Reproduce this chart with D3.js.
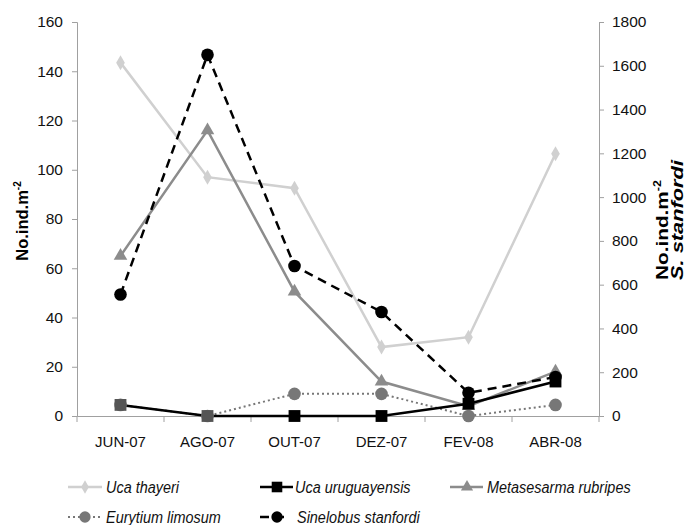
<!DOCTYPE html>
<html><head><meta charset="utf-8">
<script src="https://cdn.jsdelivr.net/npm/d3@7"></script>
<style>body{margin:0;background:#fff}svg{display:block}text{font-family:"Liberation Sans",Arial,sans-serif}</style>
</head><body><svg id="c" width="688" height="525"></svg>
<script>
const categories = ["JUN-07","AGO-07","OUT-07","DEZ-07","FEV-08","ABR-08"];
const ucaThayeri = [143.5, 97, 92.5, 28, 32, 106.5];
const ucaUruguayensis = [4.5, 0, 0, 0, 5, 14];
const metasesarma = [65, 116, 50.5, 14, 4, 18];
const eurytium = [4.5, 0, 9, 9, 0, 4.5];
const sinelobus = [555, 1650, 685, 475, 106, 178];
const leftTicks = [0,20,40,60,80,100,120,140,160];
const rightTicks = [0,200,400,600,800,1000,1200,1400,1600,1800];

const svg = d3.select("#c");
const L = 77, R = 599, T = 22, B = 416;
const x = d3.scaleBand().domain(categories).range([L, R]);
const yL = d3.scaleLinear().domain([0,160]).range([B,T]);
const yR = d3.scaleLinear().domain([0,1800]).range([B,T]);
const cx = d => x(d) + x.bandwidth()/2;

const axisColor = "#a0a0a0";
const gl = svg.append("g").attr("transform",`translate(${L},0)`)
  .call(d3.axisLeft(yL).tickValues(leftTicks).tickSize(5).tickPadding(9));
const gr = svg.append("g").attr("transform",`translate(${R},0)`)
  .call(d3.axisRight(yR).tickValues(rightTicks).tickFormat(d3.format("d")).tickSize(5).tickPadding(8));
const gx = svg.append("g").attr("transform",`translate(0,${B})`)
  .call(d3.axisBottom(x).tickSize(0).tickPadding(20));
[gl,gr,gx].forEach(g=>{
  g.select(".domain").attr("stroke",axisColor).attr("stroke-width",1);
  g.selectAll(".tick line").attr("stroke",axisColor);
  g.selectAll("text").attr("fill","#111").style("font-size","15.5px");
});
gx.selectAll("text").style("font-size","15px");
// x boundary ticks
svg.append("g").selectAll("line").data(d3.range(categories.length+1))
  .enter().append("line")
  .attr("x1",i=>L + x.step()*i).attr("x2",i=>L + x.step()*i)
  .attr("y1",B).attr("y2",B+6).attr("stroke",axisColor);

// axis titles
svg.append("text").attr("transform","translate(28,221) rotate(-90)")
  .attr("text-anchor","middle").style("font-size","16.5px").style("font-weight","bold")
  .html('No.ind.m<tspan dy="-7" font-size="10">-2</tspan>');
svg.append("text").attr("transform","translate(668,280) rotate(-90)")
  .attr("text-anchor","start").style("font-size","16.5px").style("font-weight","bold")
  .attr("textLength",100).attr("lengthAdjust","spacingAndGlyphs")
  .html('No.ind.m<tspan dy="-7" font-size="10">-2</tspan>');
svg.append("text").attr("transform","translate(683,280) rotate(-90)")
  .attr("text-anchor","start").style("font-size","16.5px").style("font-weight","bold").style("font-style","italic")
  .attr("textLength",120).attr("lengthAdjust","spacingAndGlyphs")
  .text('S. stanfordi');

const series = [
  {name:"Uca thayeri", vals:ucaThayeri, y:yL, color:"#d0d0d0", mcolor:"#d0d0d0", dash:null, w:2.5, marker:"diamond"},
  {name:"Metasesarma rubripes", vals:metasesarma, y:yL, color:"#8c8c8c", mcolor:"#8c8c8c", dash:null, w:2.5, marker:"triangle"},
  {name:"Sinelobus stanfordi", vals:sinelobus, y:yR, color:"#000", mcolor:"#000", dash:"9,6", w:2.5, marker:"circle"},
  {name:"Eurytium limosum", vals:eurytium, y:yL, color:"#777", mcolor:"#777", dash:"2,3", w:2, marker:"circle"},
  {name:"Uca uruguayensis", vals:ucaUruguayensis, y:yL, color:"#000", mcolor:"#000", dash:null, w:2.5, marker:"square"},
];
const sym = {diamond:d3.symbolDiamond, triangle:d3.symbolTriangle, circle:d3.symbolCircle, square:d3.symbolSquare};
const size = {diamond:65, triangle:80, circle:125, square:140};

series.forEach(s=>{
  const line = d3.line().x((d,i)=>cx(categories[i])).y(d=>s.y(d));
  svg.append("path").datum(s.vals).attr("d",line).attr("fill","none")
    .attr("stroke",s.color).attr("stroke-width",s.w).attr("stroke-dasharray",s.dash);
});
series.forEach(s=>{
  svg.append("g").selectAll("path").data(s.vals).enter().append("path")
    .attr("transform",(d,i)=>`translate(${cx(categories[i])},${s.y(d)})`)
    .attr("d",d3.symbol().type(sym[s.marker]).size(size[s.marker]))
    .attr("fill",(d,i)=> s.marker==="square" && (i<2) ? "#555" : s.mcolor);
});

// legend
const legend = [
  {s:series[0], x:68, x2:102, m:85, y:487, tx:106},
  {s:series[4], x:260, x2:293, m:277, y:487, tx:295},
  {s:series[1], x:450, x2:483, m:467, y:487, tx:487},
  {s:series[3], x:68, x2:100, m:85, y:517, tx:106},
  {s:series[2], x:260, x2:284, m:277, y:517, tx:297},
];
legend.forEach(l=>{
  const g = svg.append("g").attr("transform",`translate(0,${l.y})`);
  g.append("line").attr("x1",l.x).attr("x2",l.x2).attr("y1",0).attr("y2",0)
    .attr("stroke",l.s.color).attr("stroke-width",l.s.w).attr("stroke-dasharray",l.s.dash);
  g.append("path").attr("transform",`translate(${l.m},0)`)
    .attr("d",d3.symbol().type(sym[l.s.marker]).size(size[l.s.marker]*0.8)).attr("fill",l.s.mcolor);
  g.append("text").attr("transform",`translate(${l.tx},6) scale(0.85,1)`)
    .style("font-size","17px").style("font-style","italic").attr("fill","#111").text(l.s.name);
});
</script></body></html>
